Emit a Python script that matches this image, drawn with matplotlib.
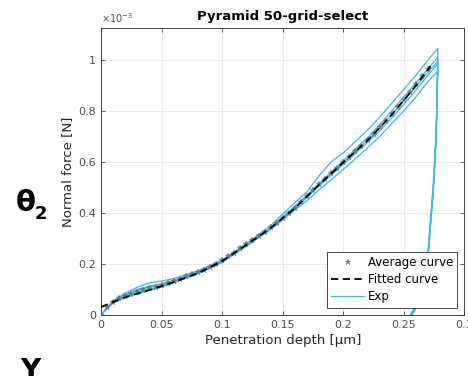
import matplotlib
matplotlib.use("Agg")
import matplotlib.pyplot as plt

# force values are in units of 1e-3 N (the axis shows the x10^-3 multiplier)
avg_depth = [0, 0.005, 0.010, 0.015, 0.020, 0.025, 0.030, 0.035, 0.040, 0.045,
             0.050, 0.055, 0.060, 0.065, 0.070, 0.075, 0.080, 0.085, 0.090, 0.095,
             0.100, 0.105, 0.110, 0.115, 0.120, 0.125, 0.130, 0.135, 0.140, 0.145,
             0.150, 0.155, 0.160, 0.165, 0.170, 0.175, 0.180, 0.185, 0.190, 0.195,
             0.200, 0.205, 0.210, 0.215, 0.220, 0.225, 0.230, 0.235, 0.240, 0.245,
             0.250, 0.255, 0.260, 0.265, 0.270]
avg_force = [0, 0.030, 0.050, 0.064, 0.075, 0.083, 0.090, 0.097, 0.103, 0.109,
             0.116, 0.124, 0.132, 0.141, 0.150, 0.158, 0.167, 0.177, 0.188, 0.200,
             0.214, 0.229, 0.244, 0.260, 0.277, 0.293, 0.310, 0.326, 0.343, 0.360,
             0.378, 0.398, 0.420, 0.443, 0.467, 0.490, 0.512, 0.534, 0.555, 0.577,
             0.598, 0.619, 0.641, 0.663, 0.686, 0.710, 0.736, 0.762, 0.789, 0.816,
             0.844, 0.874, 0.904, 0.935, 0.965]

fit_depth = [0, 0.01, 0.02, 0.03, 0.04, 0.05, 0.06, 0.08, 0.10, 0.12, 0.14,
             0.16, 0.18, 0.20, 0.22, 0.24, 0.26, 0.272]
fit_force = [0.030, 0.050, 0.068, 0.083, 0.097, 0.112, 0.128, 0.163, 0.210, 0.274,
             0.340, 0.418, 0.510, 0.598, 0.684, 0.785, 0.900, 0.975]

# experimental loading curves, shared depth grid
exp_depth = [0, 0.01, 0.02, 0.03, 0.04, 0.05, 0.06, 0.08, 0.10, 0.12, 0.14, 0.16,
             0.17, 0.18, 0.19, 0.20, 0.21, 0.22, 0.23, 0.24, 0.25, 0.26, 0.27, 0.278]
exp_force = [
    [0, 0.055, 0.085, 0.108, 0.125, 0.132, 0.142, 0.172, 0.215, 0.280, 0.350, 0.440,
     0.482, 0.545, 0.600, 0.635, 0.680, 0.725, 0.775, 0.830, 0.885, 0.940, 1.000, 1.045],
    [0, 0.050, 0.080, 0.100, 0.112, 0.122, 0.135, 0.168, 0.212, 0.275, 0.342, 0.425,
     0.470, 0.515, 0.560, 0.605, 0.650, 0.695, 0.745, 0.800, 0.855, 0.910, 0.965, 1.010],
    [0, 0.050, 0.075, 0.095, 0.108, 0.118, 0.130, 0.166, 0.210, 0.274, 0.338, 0.420,
     0.465, 0.510, 0.553, 0.597, 0.640, 0.685, 0.733, 0.785, 0.840, 0.895, 0.952, 0.995],
    [0, 0.048, 0.072, 0.088, 0.100, 0.112, 0.128, 0.163, 0.210, 0.272, 0.340, 0.418,
     0.460, 0.505, 0.548, 0.590, 0.633, 0.676, 0.722, 0.772, 0.826, 0.882, 0.940, 0.985],
    [0, 0.045, 0.068, 0.082, 0.095, 0.108, 0.125, 0.160, 0.205, 0.268, 0.335, 0.410,
     0.448, 0.490, 0.530, 0.570, 0.612, 0.655, 0.700, 0.750, 0.800, 0.855, 0.915, 0.955],
]
# unloading branches (from the peak back down to zero)
unload_force = [0.70, 0.50, 0.20, 0.05, 0]
unload_depth = [
    [0.2768, 0.2745, 0.2695, 0.2625, 0.2560],
    [0.2766, 0.2743, 0.2693, 0.2622, 0.2558],
    [0.2767, 0.2744, 0.2694, 0.2630, 0.2570],
    [0.2765, 0.2742, 0.2692, 0.2620, 0.2555],
    [0.2764, 0.2741, 0.2690, 0.2618, 0.2552],
]

x_ticks = [0, 0.05, 0.1, 0.15, 0.2, 0.25, 0.3]
x_tick_labels = ['0', '0.05', '0.1', '0.15', '0.2', '0.25', '0.3']
y_ticks = [0, 0.2, 0.4, 0.6, 0.8, 1]
y_tick_labels = ['0', '0.2', '0.4', '0.6', '0.8', '1']

exp_color = '#3cb8e6'
txt_color = '#262626'

fig = plt.figure(figsize=(4.68, 3.76), dpi=100)
ax = fig.add_axes([0.2158, 0.163, 0.7767, 0.7625])

for i, f in enumerate(exp_force):
    xs = exp_depth + unload_depth[i]
    ys = f + unload_force
    ax.plot(xs, ys, color=exp_color, lw=0.9, label='Exp' if i == 0 else None, zorder=2)

ax.plot(avg_depth, avg_force, ls='none', marker='*', ms=4.5, color='#6a6a6a',
        mew=0.3, alpha=0.85, label='Average curve', zorder=3)
ax.plot(fit_depth, fit_force, ls='--', color='black', lw=1.3, dashes=(4, 2.5),
        label='Fitted curve', zorder=4)

ax.set_xlim(0, 0.3)
ax.set_ylim(0, 1.125)
ax.set_xticks(x_ticks)
ax.set_xticklabels(x_tick_labels)
ax.set_yticks(y_ticks)
ax.set_yticklabels(y_tick_labels)
ax.tick_params(direction='in', top=True, right=True, length=3, width=0.5,
               labelsize=8, colors=txt_color, labelcolor='#4d4d4d')
ax.grid(True, color='#e6e6e6', lw=0.6)
ax.set_axisbelow(True)
for s in ax.spines.values():
    s.set_linewidth(0.6)
    s.set_color(txt_color)

ax.set_title('Pyramid 50-grid-select', fontsize=9.5, fontweight='bold', pad=6)
ax.set_xlabel('Penetration depth [µm]', fontsize=9.5, color=txt_color, labelpad=3)
ax.set_ylabel('Normal force [N]', fontsize=9.5, color=txt_color, labelpad=3)
ax.text(0.0, 1.01, r'$\times10^{-3}$', transform=ax.transAxes, fontsize=7,
        color='#4d4d4d', va='bottom', ha='left')

handles, labels = ax.get_legend_handles_labels()
order = [labels.index('Average curve'), labels.index('Fitted curve'), labels.index('Exp')]
leg = ax.legend([handles[k] for k in order], [labels[k] for k in order],
                loc='lower right', fontsize=8.5, fancybox=False, framealpha=1,
                edgecolor=txt_color, borderaxespad=0.6, handlelength=2.8,
                handletextpad=0.3, labelspacing=0.35, borderpad=0.35,
                markerscale=1.0)
leg.get_frame().set_linewidth(0.6)

# panel annotations from the source figure
fig.text(16 / 468, 1 - 203 / 376, 'θ', fontsize=21, fontweight='bold', va='center', ha='left')
fig.text(35 / 468, 1 - 214 / 376, '2', fontsize=13, fontweight='bold', va='center', ha='left')
fig.text(20 / 468, 1 - 357 / 376, 'Y', fontsize=20, fontweight='bold', va='top', ha='left')

fig.savefig('out.png', dpi=100)
